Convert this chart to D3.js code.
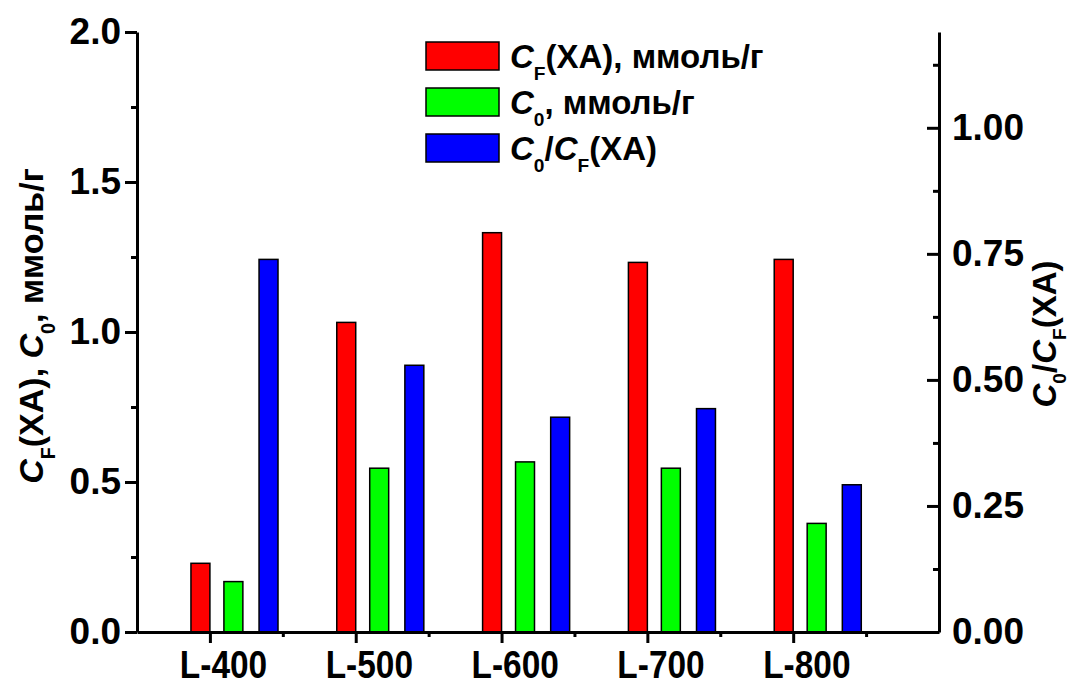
<!DOCTYPE html>
<html>
<head>
<meta charset="utf-8">
<script src="https://cdn.jsdelivr.net/npm/d3@7/dist/d3.min.js"></script>
<style>
  html, body { margin: 0; padding: 0; background: #fff; }
  svg { display: block; }
  text { font-family: "Liberation Sans", Arial, sans-serif; font-weight: bold; fill: #000; }
</style>
</head>
<body>
<div id="chart"></div>
<script>
// Samples and measured values
const categories = ["L-400", "L-500", "L-600", "L-700", "L-800"];
const cfValues   = [0.229, 1.032, 1.331, 1.232, 1.242];   // C_F(XA), ммоль/г (left axis)
const c0Values   = [0.168, 0.546, 0.567, 0.546, 0.362];   // C_0, ммоль/г (left axis)
const ratioValues = [0.739, 0.529, 0.426, 0.443, 0.292];  // C_0/C_F(XA) (right axis)

const leftTicks  = [0, 0.5, 1.0, 1.5, 2.0];
const leftMinor  = [0.25, 0.75, 1.25, 1.75];
const rightTicks = [0, 0.25, 0.5, 0.75, 1.0];
const rightMinor = [0.125, 0.375, 0.625, 0.875, 1.125];

const W = 1074, H = 688;
const svg = d3.select("#chart").append("svg").attr("width", W).attr("height", H);

const x = d3.scaleLinear().domain([0.5, 6]).range([137, 939]);
const yL = d3.scaleLinear().domain([0, 2]).range([632, 32]);
const yR = d3.scaleLinear().domain([0, 1.19]).range([632, 32]);

// bar placement inside each group, in category units
const series = [
  { values: cfValues,   scale: yL, color: "#ff0000", from: -0.13,  to: 0 },
  { values: c0Values,   scale: yL, color: "#00ff00", from: 0.096,  to: 0.226 },
  { values: ratioValues, scale: yR, color: "#0000ff", from: 0.337, to: 0.467 }
];

series.forEach(s => {
  svg.append("g").selectAll("rect")
    .data(s.values)
    .join("rect")
    .attr("x", (d, i) => x(i + 1 + s.from))
    .attr("width", (d, i) => x(i + 1 + s.to) - x(i + 1 + s.from))
    .attr("y", d => s.scale(d))
    .attr("height", d => s.scale(0) - s.scale(d))
    .attr("fill", s.color)
    .attr("stroke", "#000")
    .attr("stroke-width", 1.5);
});

const TICK_FONT = 37;

function styleAxis(g) {
  g.select(".domain").attr("stroke", "#000").attr("stroke-width", 3);
  g.selectAll(".tick line").attr("stroke", "#000").attr("stroke-width", 3);
  g.selectAll(".tick text").style("font-size", TICK_FONT + "px").style("font-weight", "bold")
    .style("font-family", "'Liberation Sans', Arial, sans-serif");
}

// Left axis
const gL = svg.append("g").attr("transform", `translate(${x.range()[0]},0)`);
gL.call(d3.axisLeft(yL).tickValues(leftTicks).tickFormat(d3.format(".1f"))
  .tickSize(12).tickSizeOuter(0).tickPadding(4));
styleAxis(gL);
gL.append("g").call(d3.axisLeft(yL).tickValues(leftMinor).tickFormat("").tickSize(6).tickSizeOuter(0))
  .call(g => { g.select(".domain").remove(); g.selectAll("line").attr("stroke", "#000").attr("stroke-width", 3); });

// Right axis (ticks pointing inward)
const gR = svg.append("g").attr("transform", `translate(${x.range()[1]},0)`);
gR.call(d3.axisRight(yR).tickValues(rightTicks).tickFormat(d3.format(".2f"))
  .tickSize(0).tickSizeOuter(0).tickPadding(13));
styleAxis(gR);
gR.selectAll(".tick line").attr("x2", -12);
gR.append("g").call(d3.axisRight(yR).tickValues(rightMinor).tickFormat("").tickSize(0).tickSizeOuter(0))
  .call(g => { g.select(".domain").remove(); g.selectAll("line").attr("x2", -6).attr("stroke", "#000").attr("stroke-width", 3); });

// Bottom axis; category labels are set in a narrowed, taller face
const gB = svg.append("g").attr("transform", `translate(0,${yL(0)})`);
gB.call(d3.axisBottom(x).tickValues(d3.range(1, categories.length + 1))
  .tickFormat(i => categories[i - 1]).tickSize(11).tickSizeOuter(0).tickPadding(8));
styleAxis(gB);
const labelShift = x(1.09) - x(1);
gB.selectAll(".tick text")
  .style("font-size", "38px")
  .attr("x", null)
  .attr("dx", null)
  .attr("transform", `translate(${labelShift},0) scale(0.88,1)`);
gB.append("g").call(d3.axisBottom(x).tickValues(d3.range(1.5, categories.length + 1, 1)).tickFormat("").tickSize(5).tickSizeOuter(0))
  .call(g => { g.select(".domain").remove(); g.selectAll("line").attr("stroke", "#000").attr("stroke-width", 3); });

// Rich label helper: parts = [[text, kind]], kind: "i" italic, "s" subscript, "" normal
function richText(sel, parts, size, sub) {
  const drop = size * (sub || 0.36);
  let shifted = false;
  parts.forEach(([t, kind]) => {
    const ts = sel.append("tspan").text(t);
    if (kind === "i") ts.style("font-style", "italic");
    if (kind === "s") {
      ts.style("font-size", (size * 0.58) + "px").attr("dy", drop);
      shifted = true;
    } else if (shifted) {
      ts.attr("dy", -drop);
      shifted = false;
    }
  });
}

// Axis titles
const leftTitle = svg.append("text")
  .attr("transform", "translate(43,326) rotate(-90)")
  .attr("text-anchor", "middle")
  .style("font-size", "34px");
richText(leftTitle, [["C", "i"], ["F", "s"], ["(XA),  ", ""], ["C", "i"], ["0", "s"], [",  ммоль/г", ""]], 34);

const rightTitle = svg.append("text")
  .attr("transform", "translate(1056,334) rotate(-90)")
  .attr("text-anchor", "middle")
  .style("font-size", "33px");
richText(rightTitle, [["C", "i"], ["0", "s"], ["/", ""], ["C", "i"], ["F", "s"], ["(XA)", ""]], 33, 0.3);

// Legend
const legendItems = [
  { color: "#ff0000", parts: [["C", "i"], ["F", "s"], ["(XA), ммоль/г", ""]] },
  { color: "#00ff00", parts: [["C", "i"], ["0", "s"], [", ммоль/г", ""]] },
  { color: "#0000ff", parts: [["C", "i"], ["0", "s"], ["/", ""], ["C", "i"], ["F", "s"], ["(XA)", ""]] }
];
const lg = svg.append("g").attr("transform", "translate(426,42)");
legendItems.forEach((it, k) => {
  const row = lg.append("g").attr("transform", `translate(0,${k * 46})`);
  row.append("rect").attr("width", 73).attr("height", 28)
    .attr("fill", it.color).attr("stroke", "#000").attr("stroke-width", 1.5);
  const t = row.append("text").attr("x", 84).attr("y", 26).style("font-size", "33px");
  richText(t, it.parts, 33);
});
</script>
</body>
</html>
